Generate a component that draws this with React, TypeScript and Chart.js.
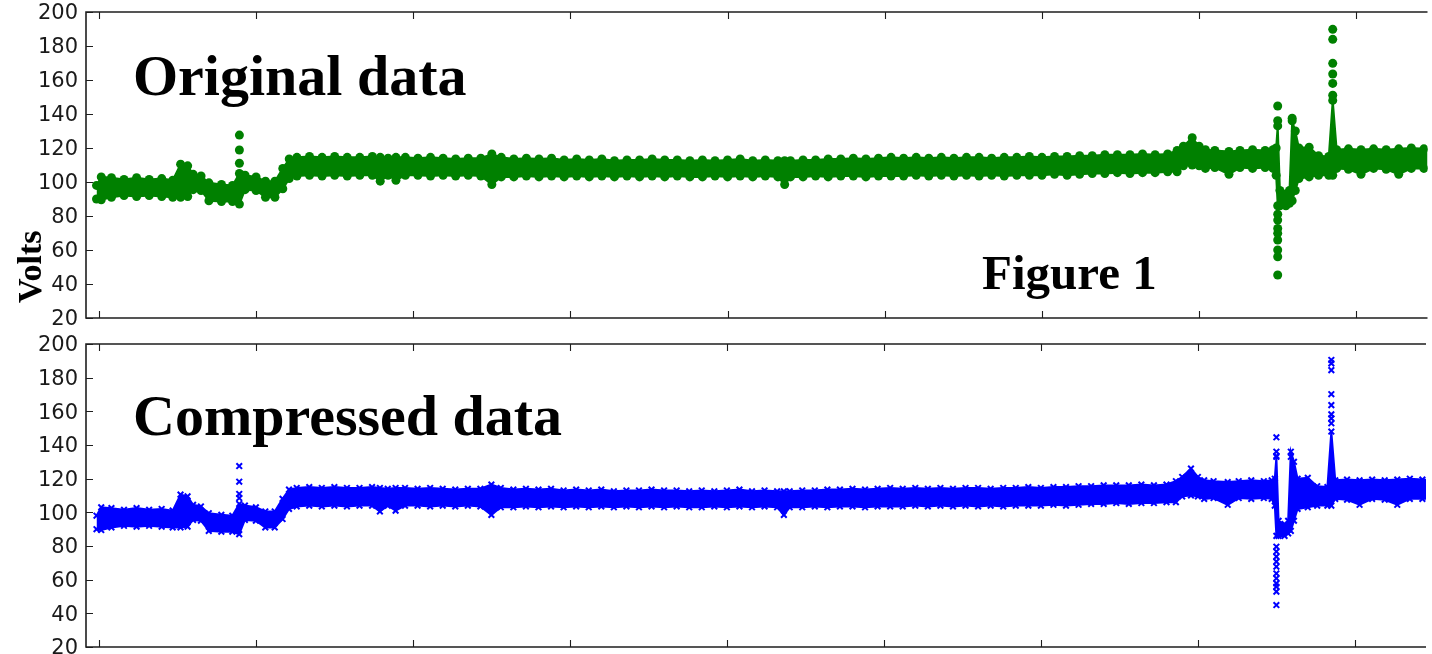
import React, { useEffect, useRef } from "react";
import { Chart, registerables } from "chart.js";

Chart.register(...registerables);

// x positions (sample index) of the voltage envelope
const bandX = [
  -15, 15, 80, 160, 240, 320, 400, 470, 520, 565,
  600, 650, 700, 780, 850, 894, 930, 1000, 1060, 1120,
  1170, 1211, 1260, 1340, 1420, 1500, 1580, 1660, 1740, 1790,
  1840, 1890, 1950, 2030, 2110, 2190, 2270, 2350, 2430, 2500,
  2560, 2640, 2720, 2800, 2880, 2960, 3040, 3120, 3200, 3280,
  3360, 3440, 3520, 3600, 3680, 3760, 3840, 3920, 4000, 4080,
  4160, 4240, 4320, 4363, 4400, 4480, 4560, 4640, 4720, 4800,
  4880, 4960, 5040, 5120, 5200, 5280, 5360, 5440, 5520, 5600,
  5680, 5760, 5840, 5920, 6000, 6080, 6160, 6240, 6320, 6400,
  6480, 6560, 6640, 6720, 6800, 6860, 6900, 6956, 7000, 7040,
  7100, 7190, 7260, 7340, 7420, 7470, 7490, 7500, 7514, 7552,
  7575, 7592, 7612, 7635, 7700, 7760, 7825, 7850, 7875, 7950,
  8030, 8110, 8190, 8270, 8350, 8430, 8500,
];

// lower edge of the dense voltage band
const bandLo = [
  90, 89.5, 91, 92, 91.5, 92, 91.5, 91, 91, 91.5,
  95.5, 95, 89, 88.5, 88.5, 87, 95.5, 95, 91, 91,
  96, 102, 103.5, 104, 103.5, 104, 103.5, 104, 104, 100.5,
  104, 101, 104, 104, 103.5, 104, 103.5, 104, 103.5, 98.5,
  103, 103, 103.5, 103, 103.5, 103, 103.5, 103, 103.5, 103,
  103.5, 103, 103.5, 103, 103.5, 103, 103, 103.5, 103, 103.5,
  103, 103.5, 103, 98.5, 103, 103, 103.5, 103, 103.5, 103.5,
  103, 103.5, 103.5, 103.5, 104, 103.5, 104, 103.5, 104, 103.5,
  104, 103.5, 104, 104, 104, 104.5, 104, 104.5, 105, 105,
  105.5, 105, 105.5, 105.5, 106, 106, 109.5, 110, 109.5, 108,
  108.5, 104.5, 108.5, 108, 108.5, 108, 104, 86, 86, 86,
  87.5, 89, 95, 102, 103, 104, 104, 104, 108, 107.5,
  104.5, 108, 107.5, 104.5, 108, 108, 108,
];

// upper edge of the dense voltage band
const bandHi = [
  98, 103, 102.5, 101.5, 102.5, 101.5, 102, 101, 110.5, 109.5,
  104.5, 103.5, 99.5, 98.5, 98, 105, 104, 103, 100.5, 100.5,
  108, 113.5, 114.5, 115, 114.5, 115, 114.5, 114.5, 115, 114.5,
  114, 114.5, 114.5, 114, 114.5, 114, 113.5, 114, 114, 116.5,
  114.5, 113.5, 114, 113.5, 114, 113, 113.5, 113, 113.5, 112.5,
  113, 113, 113.5, 113, 113, 112.5, 113, 112.5, 113, 113.5,
  112.5, 113, 112.5, 112.5, 112.5, 113, 113, 113.5, 113.5, 114,
  113.5, 114, 114.5, 114, 114.5, 114, 114.5, 114, 114.5, 114.5,
  114, 114.5, 114.5, 115, 114.5, 115, 115, 115.5, 115.5, 116,
  116, 116, 116.5, 116, 116.5, 118.5, 121, 126, 121, 119,
  118.5, 118, 118.5, 119, 118.5, 119, 120, 133, 95, 93,
  95, 136, 130, 120, 120.5, 115.5, 115, 148, 119, 119.5,
  119, 119.5, 119, 119.5, 120, 119.5, 119,
];

// isolated samples of the original data
const origOutX = [894, 894, 894, 7500, 7500, 7500, 7500, 7500, 7500, 7500, 7500, 7500, 7500, 7592, 7850, 7850, 7850, 7850, 7850, 7850];
const origOutY = [127.6, 118.8, 111, 144.7, 136, 81, 77.6, 72.7, 69.8, 65.9, 60, 56, 45.3, 137.5, 151, 158, 163.5, 169.8, 183.9, 189.8];

// isolated samples of the compressed data
const compOutX = [894, 894, 894, 894, 7500, 7500, 7500, 7500, 7500, 7500, 7500, 7500, 7500, 7500, 7500, 7500, 7500, 7500, 7592, 7850, 7850, 7850, 7850, 7850, 7850, 7850, 7850];
const compOutY = [127.5, 118.2, 110.9, 108.5, 144.6, 136, 133.5, 79.6, 76.7, 73.7, 70.7, 67.7, 63.7, 60.8, 57.8, 55.8, 52.9, 44.9, 133, 190.5, 188.5, 184.5, 170.2, 163.7, 158.2, 155.8, 152.9];

const yTicks = [20, 40, 60, 80, 100, 120, 140, 160, 180, 200];
const xTicks = [0, 1000, 2000, 3000, 4000, 5000, 6000, 7000, 8000];

type TextItem = { text: string; x: number; y: number; size: number; rotate?: boolean };

function makeFramePlugin(texts: TextItem[]) {
  return {
    id: "frame",
    afterDraw(chart: any) {
      const { ctx, chartArea, scales } = chart;
      const { left, right, top, bottom } = chartArea;
      const xs = scales.x;
      const ys = scales.y;
      ctx.save();
      ctx.strokeStyle = "#1e1e1e";
      ctx.lineWidth = 1.6;
      ctx.beginPath();
      ctx.moveTo(right, top);
      ctx.lineTo(left, top);
      ctx.lineTo(left, bottom);
      ctx.lineTo(right, bottom);
      ctx.stroke();
      ctx.lineWidth = 1.1;
      ctx.beginPath();
      for (const v of xTicks) {
        const px = Math.round(xs.getPixelForValue(v)) + 0.5;
        ctx.moveTo(px, bottom);
        ctx.lineTo(px, bottom - 7);
        ctx.moveTo(px, top);
        ctx.lineTo(px, top + 7);
      }
      for (const v of yTicks) {
        const py = Math.round(ys.getPixelForValue(v)) + 0.5;
        ctx.moveTo(left, py);
        ctx.lineTo(left + 7, py);
      }
      ctx.stroke();
      ctx.fillStyle = "#1a1a1a";
      ctx.font = '21px "DejaVu Sans"';
      ctx.textAlign = "right";
      ctx.textBaseline = "middle";
      for (const v of yTicks) {
        ctx.fillText(String(v), left - 8, ys.getPixelForValue(v) + 2);
      }
      ctx.fillStyle = "#000";
      ctx.textAlign = "left";
      ctx.textBaseline = "alphabetic";
      for (const t of texts) {
        ctx.font = `bold ${t.size}px "Liberation Serif", "Times New Roman", serif`;
        if (t.rotate) {
          ctx.save();
          ctx.translate(t.x, t.y);
          ctx.rotate(-Math.PI / 2);
          ctx.fillText(t.text, 0, 0);
          ctx.restore();
        } else {
          ctx.fillText(t.text, t.x, t.y);
        }
      }
      ctx.restore();
    },
  };
}

function buildConfig(color: string, style: string, outX: number[], outY: number[], texts: TextItem[], padTop: number, padBottom: number): any {
  const lo = bandX.map((x, i) => ({ x, y: bandLo[i] }));
  const hi = bandX.map((x, i) => ({ x, y: bandHi[i] }));
  const out = outX.map((x, i) => ({ x, y: outY[i] }));
  const isCross = style === "crossRot";
  const pt = {
    pointStyle: style,
    pointRadius: isCross ? 4 : 4.5,
    pointBorderWidth: isCross ? 2 : 0,
    pointBackgroundColor: color,
    pointBorderColor: color,
  };
  return {
    type: "line",
    data: {
      datasets: [
        { data: lo, borderColor: color, backgroundColor: color, borderWidth: 2, fill: false, tension: 0, ...pt },
        { data: hi, borderColor: color, backgroundColor: color, borderWidth: 2, fill: "-1", tension: 0, ...pt },
        { data: out, showLine: false, borderColor: color, backgroundColor: color, ...pt },
      ],
    },
    options: {
      responsive: false,
      animation: false,
      devicePixelRatio: 1,
      events: [],
      layout: { padding: { left: 86, right: 0, top: padTop, bottom: padBottom } },
      scales: {
        x: { type: "linear", min: -82, max: 8453, display: false },
        y: { type: "linear", min: 20, max: 200, display: false },
      },
      plugins: { legend: { display: false }, tooltip: { enabled: false } },
    },
    plugins: [makeFramePlugin(texts)],
  };
}

export default function App() {
  const topRef = useRef<HTMLCanvasElement>(null);
  const botRef = useRef<HTMLCanvasElement>(null);
  useEffect(() => {
    const c1 = new Chart(
      topRef.current as HTMLCanvasElement,
      buildConfig("#008000", "circle", origOutX, origOutY, [
        { text: "Original data", x: 133, y: 95, size: 58 },
        { text: "Figure 1", x: 982, y: 289, size: 49 },
        { text: "Volts", x: 41, y: 303, size: 34, rotate: true },
      ], 12, 12)
    );
    const c2 = new Chart(
      botRef.current as HTMLCanvasElement,
      buildConfig("#0000ff", "crossRot", compOutX, compOutY, [
        { text: "Compressed data", x: 133, y: 105, size: 58 },
      ], 14, 12)
    );
    return () => {
      c1.destroy();
      c2.destroy();
    };
  }, []);
  return (
    <div style={{ position: "fixed", left: 0, top: 0, width: 1432, height: 654, overflow: "hidden", background: "#fff" }}>
      <canvas ref={topRef} width={1432} height={330} style={{ position: "absolute", left: 0, top: 0, width: 1432, height: 330 }} />
      <canvas ref={botRef} width={1432} height={329} style={{ position: "absolute", left: 0, top: 330, width: 1432, height: 329 }} />
    </div>
  );
}
